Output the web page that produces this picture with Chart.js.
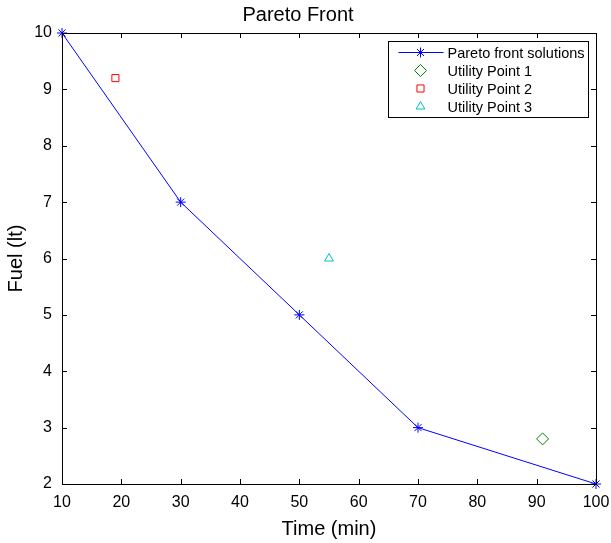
<!DOCTYPE html>
<html>
<head>
<meta charset="utf-8">
<script src="https://cdn.jsdelivr.net/npm/chart.js@4/dist/chart.umd.min.js"></script>
<style>
html,body{margin:0;padding:0;background:#fff;}
#wrap{width:611px;height:543px;}
</style>
</head>
<body>
<div id="wrap"><canvas id="c" width="611" height="543"></canvas></div>
<script>
const paretoTime = [10, 30, 50, 70, 100];
const paretoFuel = [10, 7, 5, 3, 2];
const utility1 = [{x: 91, y: 2.8}];
const utility2 = [{x: 19, y: 9.2}];
const utility3 = [{x: 55, y: 6}];
const seriesLabels = ['Pareto front solutions', 'Utility Point 1', 'Utility Point 2', 'Utility Point 3'];
const xTicks = [10, 20, 30, 40, 50, 60, 70, 80, 90, 100];
const yTicks = [2, 3, 4, 5, 6, 7, 8, 9, 10];

const FONT = "'Liberation Sans', Arial, Helvetica, sans-serif";

const frameTicks = {
  id: 'frameTicks',
  afterDatasetsDraw(chart) {
    const ctx = chart.ctx, a = chart.chartArea;
    const xs = chart.scales.x, ys = chart.scales.y;
    ctx.save();
    ctx.strokeStyle = '#000';
    ctx.lineWidth = 1;
    ctx.beginPath();
    const L = 5;
    xTicks.forEach(v => {
      const px = Math.round(xs.getPixelForValue(v)) + 0.5;
      ctx.moveTo(px, a.bottom); ctx.lineTo(px, a.bottom - L);
      ctx.moveTo(px, a.top); ctx.lineTo(px, a.top + L);
    });
    yTicks.forEach(v => {
      const py = Math.round(ys.getPixelForValue(v)) + 0.5;
      ctx.moveTo(a.left, py); ctx.lineTo(a.left + L, py);
      ctx.moveTo(a.right, py); ctx.lineTo(a.right - L, py);
    });
    ctx.stroke();
    ctx.strokeRect(Math.round(a.left) + 0.5, Math.round(a.top) + 0.5,
                   Math.round(a.right - a.left), Math.round(a.bottom - a.top));
    ctx.restore();
  }
};

const boxLegend = {
  id: 'boxLegend',
  afterDraw(chart) {
    const ctx = chart.ctx, a = chart.chartArea;
    const w = 200, h = 76;
    const x0 = Math.round(a.right - 8 - w) + 0.5, y0 = Math.round(a.top + 8) + 0.5;
    ctx.save();
    ctx.fillStyle = '#fff';
    ctx.fillRect(x0, y0, w, h);
    ctx.strokeStyle = '#000';
    ctx.lineWidth = 1;
    ctx.strokeRect(x0, y0, w, h);
    ctx.font = '14.5px ' + FONT;
    ctx.textBaseline = 'middle';
    ctx.textAlign = 'left';
    chart.data.datasets.forEach((ds, i) => {
      const cy = y0 + 11 + i * 18;
      const mx = x0 + 32;
      if (ds.showLine) {
        ctx.strokeStyle = ds.borderColor;
        ctx.lineWidth = 1;
        ctx.beginPath();
        ctx.moveTo(x0 + 10, cy); ctx.lineTo(x0 + 55, cy);
        ctx.stroke();
      }
      ctx.strokeStyle = ds.pointBorderColor;
      ctx.fillStyle = 'rgba(0,0,0,0)';
      ctx.lineWidth = 1;
      Chart.helpers.drawPoint(ctx, {
        pointStyle: ds.pointStyle, radius: ds.pointRadius,
        borderWidth: 1, rotation: 0
      }, mx, cy);
      ctx.fillStyle = '#000';
      ctx.fillText(ds.label, x0 + 59, cy + 1);
    });
    ctx.restore();
  }
};

function pointOpts(color, style, r) {
  return {
    borderColor: color, backgroundColor: 'rgba(0,0,0,0)',
    pointBorderColor: color, pointBackgroundColor: 'rgba(0,0,0,0)',
    pointStyle: style, pointRadius: r, pointHoverRadius: r, pointBorderWidth: 1
  };
}

new Chart(document.getElementById('c'), {
  type: 'scatter',
  data: {
    datasets: [
      Object.assign({
        label: seriesLabels[0],
        data: paretoTime.map((t, i) => ({x: t, y: paretoFuel[i]})),
        showLine: true, borderWidth: 1
      }, pointOpts('#0000ff', 'star', 5)),
      Object.assign({label: seriesLabels[1], data: utility1, showLine: false}, pointOpts('#008000', 'rectRot', 6)),
      Object.assign({label: seriesLabels[2], data: utility2, showLine: false}, pointOpts('#ff0000', 'rect', 5)),
      Object.assign({label: seriesLabels[3], data: utility3, showLine: false}, pointOpts('#00bfbf', 'triangle', 5))
    ]
  },
  options: {
    responsive: false,
    animation: false,
    clip: false,
    layout: {padding: {left: 0, right: 15, top: 0, bottom: 0}},
    plugins: {
      legend: {display: false},
      tooltip: {enabled: false},
      title: {
        display: true, text: 'Pareto Front', color: '#000',
        font: {family: FONT, size: 20, weight: 'normal'},
        padding: {top: 3, bottom: 6}
      }
    },
    scales: {
      x: {
        type: 'linear', min: 10, max: 100,
        afterBuildTicks: s => { s.ticks = xTicks.map(v => ({value: v})); },
        afterFit: s => { s.height = 59; s.paddingLeft = 0; s.paddingRight = 0; },
        grid: {display: false, drawTicks: false},
        border: {display: false},
        ticks: {color: '#000', font: {family: FONT, size: 16}, padding: 9, maxRotation: 0, autoSkip: false},
        title: {display: true, text: 'Time (min)', color: '#000', font: {family: FONT, size: 20}, padding: {top: 4, bottom: 2}}
      },
      y: {
        type: 'linear', min: 2, max: 10,
        afterBuildTicks: s => { s.ticks = yTicks.map(v => ({value: v})); },
        afterFit: s => { s.width = 62; s.paddingTop = 0; s.paddingBottom = 0; },
        grid: {display: false, drawTicks: false},
        border: {display: false},
        ticks: {color: '#000', font: {family: FONT, size: 16}, padding: 10, autoSkip: false},
        title: {display: true, text: 'Fuel (lt)', color: '#000', font: {family: FONT, size: 20}, padding: {top: 4, bottom: 4}}
      }
    }
  },
  plugins: [frameTicks, boxLegend]
});
</script>
</body>
</html>
